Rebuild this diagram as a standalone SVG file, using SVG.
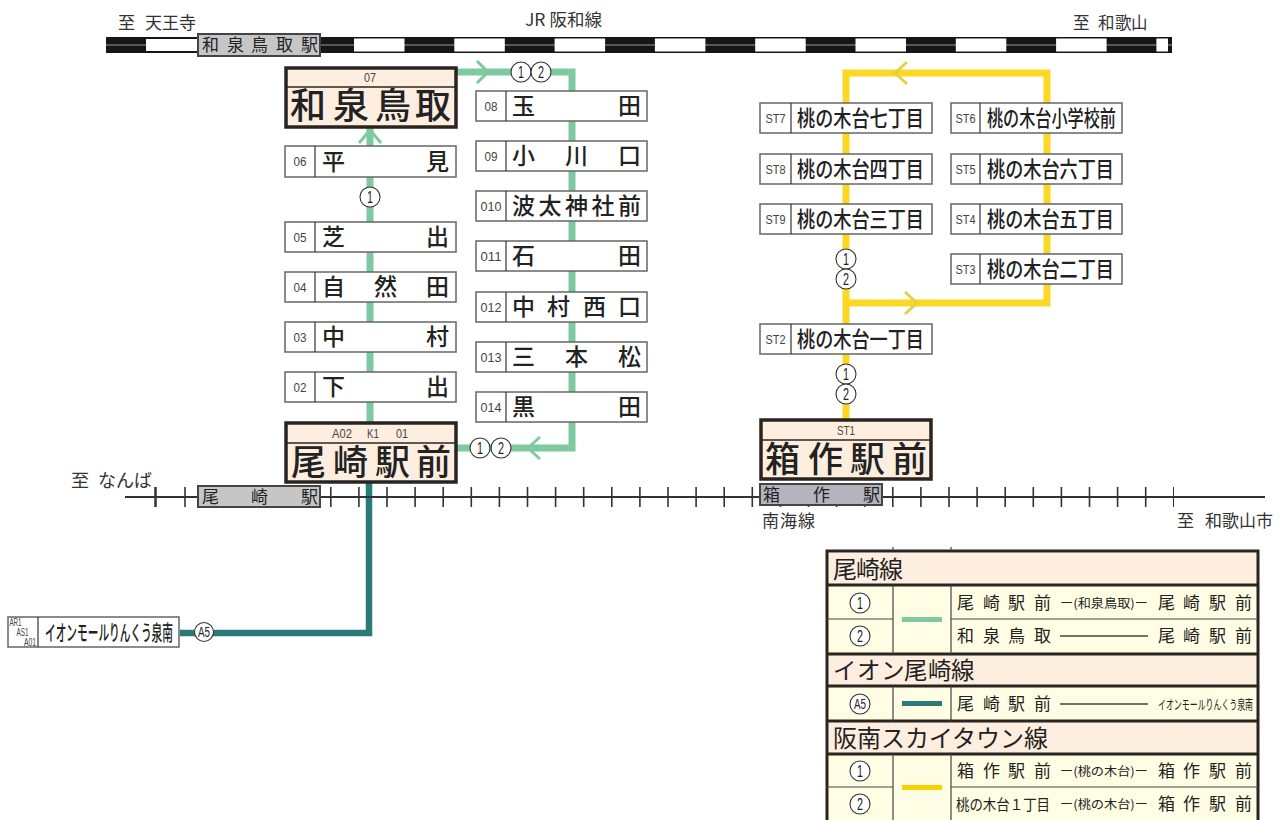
<svg xmlns="http://www.w3.org/2000/svg" width="1281" height="820" viewBox="0 0 1281 820">
<style>
text{font-family:"Noto Sans CJK JP","Liberation Sans",sans-serif;fill:#222}
.n{font-size:23px;font-weight:500}
.b{font-size:35px;font-weight:500}
.c{font-family:"Liberation Sans",sans-serif;font-size:13px;text-anchor:middle;fill:#444}
.t{font-size:22px;font-weight:500}
.l{font-size:17px;fill:#333}
.s{font-size:17px}
.lt{font-size:17px}
.sm{font-size:12px}
.h{font-size:24px}
.d{font-family:"Liberation Sans",sans-serif;font-size:16px;text-anchor:middle;fill:#222}
.box{fill:#fff;stroke:#666;stroke-width:1.5}
.div{stroke:#333;stroke-width:1.2}
.big{fill:#fdeee0;stroke:#2a2420;stroke-width:3.5}
.bigd{stroke:#2a2420;stroke-width:1.5}
.sta{fill:#c6c6c6;stroke:#444;stroke-width:2}
.circ{fill:#fff;stroke:#333;stroke-width:1.1}
.g{fill:none;stroke:#7fc9a0;stroke-width:7}
.gc{fill:none;stroke:#7fc9a0;stroke-width:3}
.y{fill:none;stroke:#fad825;stroke-width:7}
.yc{fill:none;stroke:#e4d040;stroke-width:3}
.te{fill:none;stroke:#2a7a78;stroke-width:6.5}
.hd{fill:#fdeee0}
.rw{fill:#fffde3}
.ldk{stroke:#2a2420;stroke-width:3;fill:none}
.lth{stroke:#444;stroke-width:1.2;fill:none}
</style>
<rect width="1281" height="820" fill="#fff"/>

<g id="connectors">
<path class="g" d="M457 72H572V422"/>
<path class="g" d="M572 422V448H457"/>
<path class="g" d="M370 128V422"/>
<path class="gc" d="M477 61L488 72L477 83"/>
<path class="gc" d="M359 143L370 130L381 143"/>
<path class="gc" d="M540 437L528 448L540 459"/>
<path class="y" d="M846 420V73H1047V303H846"/>
<path class="yc" d="M907 62L895 73L907 84"/>
<path class="yc" d="M905 292L917 303L905 314"/>
<path class="te" d="M369 483V633H180"/>
</g>

<g id="rails">
<rect x="106" y="37" width="1066" height="16" fill="#161616"/>
<line x1="106" y1="45" x2="1172" y2="45" stroke="#999" stroke-width="1"/>
<rect x="146" y="39" width="52" height="12" fill="#fff"/>
<line x1="354" y1="45" x2="1168" y2="45" stroke="#fff" stroke-width="13" stroke-dasharray="50.5 49.8"/>
<line x1="125" y1="497" x2="1265" y2="497" stroke="#333" stroke-width="2"/>
<line x1="155.500" y1="487" x2="155.500" y2="507" stroke="#333" stroke-width="2.500"/>
<line x1="185" y1="487" x2="185" y2="507" stroke="#333" stroke-width="1.600"/>
<line x1="330" y1="497" x2="1174" y2="497" stroke="#333" stroke-width="20" stroke-dasharray="1.6 26.5"/>
</g>

<g id="labels">
<text class="l" x="118 145 162 179" y="29">至天王寺</text>
<text class="l" x="525" y="26" textLength="77" lengthAdjust="spacingAndGlyphs">JR 阪和線</text>
<text class="l" x="1073 1098 1115 1131" y="29" style="font-size:16.500px">至和歌山</text>
<text class="l" x="71 98 116 134" y="487" style="font-size:18px">至なんば</text>
<text class="l" x="762 780 798" y="527">南海線</text>
<text class="l" x="1177 1205 1222 1239 1256" y="527">至和歌山市</text>
</g>

<g id="circles">
<g id="c-top"><circle class="circ" cx="521" cy="72" r="10"/><text class="d" x="521" y="78" textLength="6" lengthAdjust="spacingAndGlyphs">1</text><circle class="circ" cx="541" cy="72" r="10"/><text class="d" x="541" y="78" textLength="6" lengthAdjust="spacingAndGlyphs">2</text></g>
<g id="c-left"><circle class="circ" cx="370" cy="197" r="10"/><text class="d" x="370" y="203" textLength="6" lengthAdjust="spacingAndGlyphs">1</text></g>
<g id="c-bottom"><circle class="circ" cx="480" cy="448" r="10"/><text class="d" x="480" y="454" textLength="6" lengthAdjust="spacingAndGlyphs">1</text><circle class="circ" cx="501" cy="448" r="10"/><text class="d" x="501" y="454" textLength="6" lengthAdjust="spacingAndGlyphs">2</text></g>
<g id="c-st-a"><circle class="circ" cx="846" cy="259" r="10"/><text class="d" x="846" y="265" textLength="6" lengthAdjust="spacingAndGlyphs">1</text><circle class="circ" cx="846" cy="279" r="10"/><text class="d" x="846" y="285" textLength="6" lengthAdjust="spacingAndGlyphs">2</text></g>
<g id="c-st-b"><circle class="circ" cx="846" cy="374" r="10"/><text class="d" x="846" y="380" textLength="6" lengthAdjust="spacingAndGlyphs">1</text><circle class="circ" cx="846" cy="394" r="10"/><text class="d" x="846" y="400" textLength="6" lengthAdjust="spacingAndGlyphs">2</text></g>
<g id="c-a5"><circle class="circ" cx="204" cy="632" r="9.500"/><text class="d" x="204" y="637" style="font-size:14px" textLength="12" lengthAdjust="spacingAndGlyphs">A5</text></g>
</g>

<g id="rail-izumitottori"><rect class="sta" x="198" y="34" width="122" height="22"/><text class="s" x="202 227 251 276 301" y="51">和泉鳥取駅</text></g>
<g id="rail-ozaki"><rect class="sta" x="198" y="486" width="122" height="21"/><text class="s" x="202 251 301" y="503">尾崎駅</text></g>
<g id="rail-hakotsukuri"><rect class="sta" x="760" y="484" width="122" height="21" style="fill:#b4b4bc"/><text class="s" x="763 813 863" y="501">箱作駅</text></g>

<g id="st-o7"><rect class="big" x="286" y="68" width="170" height="59"/><line class="bigd" x1="286" y1="87" x2="456" y2="87"/><text class="c" x="370" y="82" textLength="12" lengthAdjust="spacingAndGlyphs">07</text><text style="font-size:36px;font-weight:500" x="290 333 375 415" y="119">和泉鳥取</text></g>
<g id="st-o6"><rect class="box" x="285" y="146" width="171" height="31"/><line class="div" x1="315" y1="146" x2="315" y2="177"/><text class="c" x="300" y="166" textLength="13" lengthAdjust="spacingAndGlyphs">06</text><text class="n" x="322 426" y="170">平見</text></g>
<g id="st-o5"><rect class="box" x="285" y="222" width="171" height="30"/><line class="div" x1="315" y1="222" x2="315" y2="252"/><text class="c" x="300" y="242" textLength="13" lengthAdjust="spacingAndGlyphs">05</text><text class="n" x="322 426" y="245">芝出</text></g>
<g id="st-o4"><rect class="box" x="285" y="272" width="171" height="30"/><line class="div" x1="315" y1="272" x2="315" y2="302"/><text class="c" x="300" y="292" textLength="13" lengthAdjust="spacingAndGlyphs">04</text><text class="n" x="322 374 426" y="295">自然田</text></g>
<g id="st-o3"><rect class="box" x="285" y="322" width="171" height="30"/><line class="div" x1="315" y1="322" x2="315" y2="352"/><text class="c" x="300" y="342" textLength="13" lengthAdjust="spacingAndGlyphs">03</text><text class="n" x="322 426" y="345">中村</text></g>
<g id="st-o2"><rect class="box" x="285" y="372" width="171" height="30"/><line class="div" x1="315" y1="372" x2="315" y2="402"/><text class="c" x="300" y="392" textLength="13" lengthAdjust="spacingAndGlyphs">02</text><text class="n" x="322 426" y="395">下出</text></g>
<g id="st-o1"><rect class="big" x="286" y="423" width="170" height="59"/><line class="bigd" x1="286" y1="443" x2="456" y2="443"/><text class="c" x="342" y="438" textLength="20" lengthAdjust="spacingAndGlyphs">A02</text><text class="c" x="373" y="438" textLength="12" lengthAdjust="spacingAndGlyphs">K1</text><text class="c" x="402" y="438" textLength="12" lengthAdjust="spacingAndGlyphs">01</text><text class="b" x="291 333 375 416" y="475">尾崎駅前</text></g>

<g id="st-o8"><rect class="box" x="476" y="91" width="171" height="30"/><line class="div" x1="506" y1="91" x2="506" y2="121"/><text class="c" x="491" y="111" textLength="13" lengthAdjust="spacingAndGlyphs">08</text><text class="n" x="512 618" y="114">玉田</text></g>
<g id="st-o9"><rect class="box" x="476" y="141" width="171" height="30"/><line class="div" x1="506" y1="141" x2="506" y2="171"/><text class="c" x="491" y="161" textLength="13" lengthAdjust="spacingAndGlyphs">09</text><text class="n" x="512 565 618" y="164">小川口</text></g>
<g id="st-o10"><rect class="box" x="476" y="191" width="171" height="30"/><line class="div" x1="506" y1="191" x2="506" y2="221"/><text class="c" x="491" y="211" textLength="21" lengthAdjust="spacingAndGlyphs">010</text><text class="n" x="512 538.500 565 591.500 618" y="214">波太神社前</text></g>
<g id="st-o11"><rect class="box" x="476" y="241" width="171" height="30"/><line class="div" x1="506" y1="241" x2="506" y2="271"/><text class="c" x="491" y="261" textLength="21" lengthAdjust="spacingAndGlyphs">011</text><text class="n" x="512 618" y="264">石田</text></g>
<g id="st-o12"><rect class="box" x="476" y="292" width="171" height="30"/><line class="div" x1="506" y1="292" x2="506" y2="322"/><text class="c" x="491" y="312" textLength="21" lengthAdjust="spacingAndGlyphs">012</text><text class="n" x="512 547 583 618" y="315">中村西口</text></g>
<g id="st-o13"><rect class="box" x="476" y="342" width="171" height="30"/><line class="div" x1="506" y1="342" x2="506" y2="372"/><text class="c" x="491" y="362" textLength="21" lengthAdjust="spacingAndGlyphs">013</text><text class="n" x="512 565 618" y="365">三本松</text></g>
<g id="st-o14"><rect class="box" x="476" y="392" width="171" height="30"/><line class="div" x1="506" y1="392" x2="506" y2="422"/><text class="c" x="491" y="412" textLength="21" lengthAdjust="spacingAndGlyphs">014</text><text class="n" x="512 618" y="415">黒田</text></g>

<g id="st-st7"><rect class="box" x="760" y="103" width="172" height="30"/><line class="div" x1="791" y1="103" x2="791" y2="133"/><text class="c" x="775.500" y="123" textLength="20" lengthAdjust="spacingAndGlyphs">ST7</text><text class="t" x="797" y="126" textLength="127" lengthAdjust="spacingAndGlyphs">桃の木台七丁目</text></g>
<g id="st-st8"><rect class="box" x="760" y="154" width="172" height="30"/><line class="div" x1="791" y1="154" x2="791" y2="184"/><text class="c" x="775.500" y="174" textLength="20" lengthAdjust="spacingAndGlyphs">ST8</text><text class="t" x="797" y="177" textLength="127" lengthAdjust="spacingAndGlyphs">桃の木台四丁目</text></g>
<g id="st-st9"><rect class="box" x="760" y="204" width="172" height="30"/><line class="div" x1="791" y1="204" x2="791" y2="234"/><text class="c" x="775.500" y="224" textLength="20" lengthAdjust="spacingAndGlyphs">ST9</text><text class="t" x="797" y="227" textLength="127" lengthAdjust="spacingAndGlyphs">桃の木台三丁目</text></g>
<g id="st-st6"><rect class="box" x="951" y="103" width="171" height="30"/><line class="div" x1="980" y1="103" x2="980" y2="133"/><text class="c" x="965.500" y="123" textLength="20" lengthAdjust="spacingAndGlyphs">ST6</text><text class="t" x="987" y="126" textLength="129" lengthAdjust="spacingAndGlyphs">桃の木台小学校前</text></g>
<g id="st-st5"><rect class="box" x="951" y="154" width="171" height="30"/><line class="div" x1="980" y1="154" x2="980" y2="184"/><text class="c" x="965.500" y="174" textLength="20" lengthAdjust="spacingAndGlyphs">ST5</text><text class="t" x="987" y="177" textLength="127" lengthAdjust="spacingAndGlyphs">桃の木台六丁目</text></g>
<g id="st-st4"><rect class="box" x="951" y="204" width="171" height="30"/><line class="div" x1="980" y1="204" x2="980" y2="234"/><text class="c" x="965.500" y="224" textLength="20" lengthAdjust="spacingAndGlyphs">ST4</text><text class="t" x="987" y="227" textLength="127" lengthAdjust="spacingAndGlyphs">桃の木台五丁目</text></g>
<g id="st-st3"><rect class="box" x="951" y="254" width="171" height="30"/><line class="div" x1="980" y1="254" x2="980" y2="284"/><text class="c" x="965.500" y="274" textLength="20" lengthAdjust="spacingAndGlyphs">ST3</text><text class="t" x="987" y="277" textLength="127" lengthAdjust="spacingAndGlyphs">桃の木台二丁目</text></g>
<g id="st-st2"><rect class="box" x="760" y="324" width="172" height="30"/><line class="div" x1="791" y1="324" x2="791" y2="354"/><text class="c" x="775.500" y="344" textLength="20" lengthAdjust="spacingAndGlyphs">ST2</text><text class="t" x="797" y="347" textLength="127" lengthAdjust="spacingAndGlyphs">桃の木台一丁目</text></g>
<g id="st-st1"><rect class="big" x="761" y="420" width="170" height="59"/><line class="bigd" x1="761" y1="440" x2="931" y2="440"/><text class="c" x="846" y="435" textLength="18" lengthAdjust="spacingAndGlyphs">ST1</text><text class="b" x="765 808 850 892" y="472">箱作駅前</text></g>

<g id="st-aeon"><rect class="box" x="8" y="617" width="171" height="30"/><line class="div" x1="38" y1="617" x2="38" y2="647"/>
<text class="c" x="15.500" y="626" style="font-size:10px" textLength="12" lengthAdjust="spacingAndGlyphs">AR1</text><text class="c" x="22.500" y="636" style="font-size:10px" textLength="12" lengthAdjust="spacingAndGlyphs">AS1</text><text class="c" x="30" y="646" style="font-size:10px" textLength="12" lengthAdjust="spacingAndGlyphs">A01</text>
<text class="t" x="45" y="640" style="font-size:21px" textLength="128" lengthAdjust="spacingAndGlyphs">イオンモールりんくう泉南</text></g>

<g id="legend">
<rect class="rw" x="827" y="553" width="430" height="267"/>
<rect class="hd" x="827" y="553" width="430" height="32"/>
<rect class="hd" x="827" y="654" width="430" height="32"/>
<rect class="hd" x="827" y="722" width="430" height="32"/>
<path class="ldk" d="M827 820V551H1258V820"/>
<path class="ldk" d="M827 585H1258M827 654H1258M827 686H1258M827 721H1258M827 754H1258"/>
<path class="lth" d="M827 619H893M951 619H1258M827 787H893M951 787H1258M893 585V654M951 585V654M893 686V721M951 686V721M893 754V820M951 754V820M893 547V551M951 547V551"/>
<text class="h" x="833 856 879" y="578">尾崎線</text>
<text class="h" x="833 857 881 904 928 951" y="679" style="font-size:23.500px">イオン尾崎線</text>
<text class="h" x="833" y="747">阪南スカイタウン線</text>

<circle class="circ" cx="860" cy="603" r="10"/><text class="d" x="860" y="609" textLength="6" lengthAdjust="spacingAndGlyphs">1</text>
<circle class="circ" cx="860" cy="636" r="10"/><text class="d" x="860" y="642" textLength="6" lengthAdjust="spacingAndGlyphs">2</text>
<circle class="circ" cx="860" cy="704" r="10"/><text class="d" x="860" y="709" style="font-size:14px" textLength="12" lengthAdjust="spacingAndGlyphs">A5</text>
<circle class="circ" cx="860" cy="771" r="10"/><text class="d" x="860" y="777" textLength="6" lengthAdjust="spacingAndGlyphs">1</text>
<circle class="circ" cx="860" cy="804" r="10"/><text class="d" x="860" y="810" textLength="6" lengthAdjust="spacingAndGlyphs">2</text>

<rect x="902" y="617" width="40" height="5" fill="#7fc9a0"/>
<rect x="902" y="701" width="40" height="5" fill="#2a7a78"/>
<rect x="902" y="785" width="40" height="5" fill="#fad200"/>

<text class="lt" x="957 983 1008 1034" y="609">尾崎駅前</text>
<text class="sm" x="1060" y="608" textLength="88" lengthAdjust="spacingAndGlyphs">ー(和泉鳥取)ー</text>
<text class="lt" x="1158 1183 1209 1235" y="609">尾崎駅前</text>

<text class="lt" x="957 983 1008 1034" y="642">和泉鳥取</text>
<line class="lth" x1="1060" y1="636" x2="1148" y2="636" style="stroke-width:1.500"/>
<text class="lt" x="1158 1183 1209 1235" y="642">尾崎駅前</text>

<text class="lt" x="957 983 1008 1034" y="710">尾崎駅前</text>
<line class="lth" x1="1060" y1="704" x2="1148" y2="704" style="stroke-width:1.500"/>
<text class="sm" x="1158" y="709" textLength="95" lengthAdjust="spacingAndGlyphs" style="font-size:13px">イオンモールりんくう泉南</text>

<text class="lt" x="957 983 1008 1034" y="777">箱作駅前</text>
<text class="sm" x="1060" y="776" textLength="88" lengthAdjust="spacingAndGlyphs">ー(桃の木台)ー</text>
<text class="lt" x="1158 1183 1209 1235" y="777">箱作駅前</text>

<text class="sm" x="956" y="810" textLength="94" lengthAdjust="spacingAndGlyphs" style="font-size:15px">桃の木台１丁目</text>
<text class="sm" x="1060" y="809" textLength="88" lengthAdjust="spacingAndGlyphs">ー(桃の木台)ー</text>
<text class="lt" x="1158 1183 1209 1235" y="810">箱作駅前</text>
</g>
</svg>
